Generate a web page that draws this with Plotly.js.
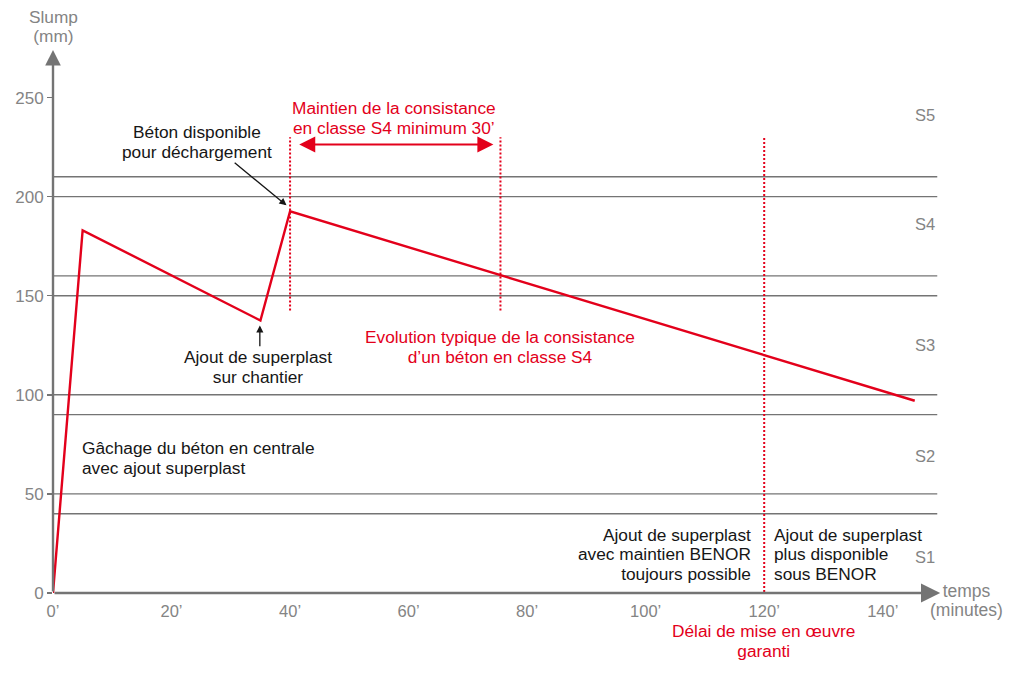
<!DOCTYPE html>
<html>
<head>
<meta charset="utf-8">
<script src="https://cdn.plot.ly/plotly-3.0.1.min.js"></script>
<style>html,body{margin:0;padding:0;background:#fff;}#chart{width:1023px;height:676px;}</style>
</head>
<body>
<div id="chart"></div>
<script>
// ---- data ----
const timeMin = [0, 5, 35, 40, 145.4];
const slumpMm = [0, 183, 137.5, 192.6, 97];

const classBounds = [40, 50, 90, 100, 150, 160, 200, 210];
const classNames = ['S1', 'S2', 'S3', 'S4', 'S5'];
const classLabelY = [18.3, 69, 125, 186, 241];

const xTickVals = [0, 20, 40, 60, 80, 100, 120, 140];
const xTickText = ['0’', '20’', '40’', '60’', '80’', '100’', '120’', '140’'];
const yTickVals = [0, 50, 100, 150, 200, 250];
const yTickText = ['0', '50', '100', '150', '200', '250'];

const markerTimes = [40, 75.5, 120];
const markerBottoms = [142.6, 142.6, -1.5];
const markerTop = 230;

const consistRange = [41.3, 74.3];
const consistArrowY = 226.3;

// ---- styles ----
const RED = '#e3001b';
const GRAY = '#747474';
const TXT_GRAY = '#848484';
const BLACK = '#161616';
const FONT = 'Liberation Sans, Arial, sans-serif';
const XMAX = 150, YMAX = 275, GRIDEND = 149.2;

const traces = [];
classBounds.forEach(b => {
  traces.push({x: [0, GRIDEND], y: [b, b], mode: 'lines', line: {color: GRAY, width: 1.4}, hoverinfo: 'skip'});
});
markerTimes.forEach((t, i) => {
  traces.push({x: [t, t], y: [markerBottoms[i], markerTop], mode: 'lines',
    line: {color: RED, width: 2, dash: '2px,2px'}, hoverinfo: 'skip'});
});
traces.push({x: timeMin, y: slumpMm, mode: 'lines', line: {color: RED, width: 2.4}, hoverinfo: 'skip'});

const annotations = [];
const lineSpacing = {};
function textBlock(lines, x, y, color, align, size, spacing) {
  const xa = align === 'left' ? 'left' : (align === 'right' ? 'right' : 'center');
  if (lines.length > 1) lineSpacing[annotations.length] = spacing;
  annotations.push({x: x / XMAX, y: y / YMAX, xref: 'paper', yref: 'paper', text: lines.join('<br>'),
    showarrow: false, xanchor: xa, yanchor: 'middle', align: xa,
    font: {family: FONT, size: size, color: color}});
}
const FS = 17.3, SP = 19.6;
textBlock(['Slump', '(mm)'], 0, 286.2, TXT_GRAY, 'center', 17.3, 19.4);
textBlock(['temps', '(minutes)'], 154.2, -4, TXT_GRAY, 'center', 17.5, 19.6);
textBlock(['Délai de mise en œuvre', 'garanti'], 119.8, -24.3, RED, 'center', FS, SP);
textBlock(['Béton disponible', 'pour déchargement'], 24.3, 227.7, BLACK, 'center', FS, SP);
textBlock(['Ajout de superplast', 'sur chantier'], 34.6, 113.8, BLACK, 'center', FS, SP);
textBlock(['Gâchage du béton en centrale', 'avec ajout superplast'], 4.6, 68.1, BLACK, 'left', FS, SP);
textBlock(['Maintien de la consistance', 'en classe S4 minimum 30’'], 57.6, 239.7, RED, 'center', FS, SP);
textBlock(['Evolution typique de la consistance', 'd’un béton en classe S4'], 75.4, 124, RED, 'center', FS, SP);
textBlock(['Ajout de superplast', 'avec maintien BENOR', 'toujours possible'], 118.1, 19.5, BLACK, 'right', FS, SP);
textBlock(['Ajout de superplast', 'plus disponible', 'sous BENOR'], 121.4, 19.5, BLACK, 'left', FS, SP);
classNames.forEach((s, i) => textBlock([s], GRIDEND, classLabelY[i], TXT_GRAY, 'right', 16.5, SP));

function arrow(x0, y0, x1, y1, color, width, head, size, side) {
  annotations.push({x: x1, y: y1, ax: x0, ay: y0, xref: 'x', yref: 'y', axref: 'x', ayref: 'y',
    text: '', showarrow: true, arrowhead: head, arrowsize: size, arrowwidth: width,
    arrowcolor: color, arrowside: side || 'end', standoff: 0, startstandoff: 0});
}
arrow(0, 0, 149.7, 0, GRAY, 2.4, 2, 1.6);
arrow(0, 0, 0, 274, GRAY, 2.4, 2, 1.3);
arrow(consistRange[0], consistArrowY, consistRange[1], consistArrowY, RED, 2, 2, 1.6, 'end+start');
arrow(30.4, 217.7, 39.4, 195.6, BLACK, 1.3, 2, 1.1);
arrow(34.9, 123.7, 34.9, 135, BLACK, 1.3, 2, 1.1);

const layout = {
  width: 1023, height: 676,
  margin: {l: 53, r: 81, t: 48, b: 83, pad: 0},
  paper_bgcolor: '#fff', plot_bgcolor: '#fff',
  showlegend: false,
  xaxis: {range: [0, XMAX], showgrid: false, zeroline: false, showline: false,
    tickmode: 'array', tickvals: xTickVals, ticktext: xTickText, ticks: '',
    ticklabelstandoff: 6, tickfont: {family: FONT, size: 16.5, color: TXT_GRAY}, fixedrange: true},
  yaxis: {range: [0, YMAX], showgrid: false, zeroline: false, showline: false,
    tickmode: 'array', tickvals: yTickVals, ticktext: yTickText, ticks: 'outside',
    ticklen: 5, tickwidth: 1.4, tickcolor: GRAY,
    tickfont: {family: FONT, size: 17, color: TXT_GRAY}, fixedrange: true},
  annotations: annotations
};

// set multi-line leading to the reference's compact line spacing
function tighten() {
  const groups = document.querySelectorAll('#chart g.annotation');
  groups.forEach(g => {
    const idx = +g.getAttribute('data-index');
    const sp = lineSpacing[idx];
    if (!sp) return;
    const txt = g.querySelector('text.annotation-text');
    if (!txt) return;
    const lines = Array.from(txt.querySelectorAll('tspan.line'));
    if (lines.length < 2) return;
    const base = lines.map(t => { try { return t.getStartPositionOfChar(0).y; } catch (e) { return NaN; } });
    if (base.some(isNaN)) return;
    const n = lines.length;
    const center = (base[0] + base[n - 1]) / 2;
    lines.forEach((t, i) => {
      t.setAttribute('dy', '0');
      t.setAttribute('y', (center + (i - (n - 1) / 2) * sp).toFixed(2));
    });
  });
}
Plotly.newPlot('chart', traces, layout, {displayModeBar: false, staticPlot: true}).then(tighten);
</script>
</body>
</html>
